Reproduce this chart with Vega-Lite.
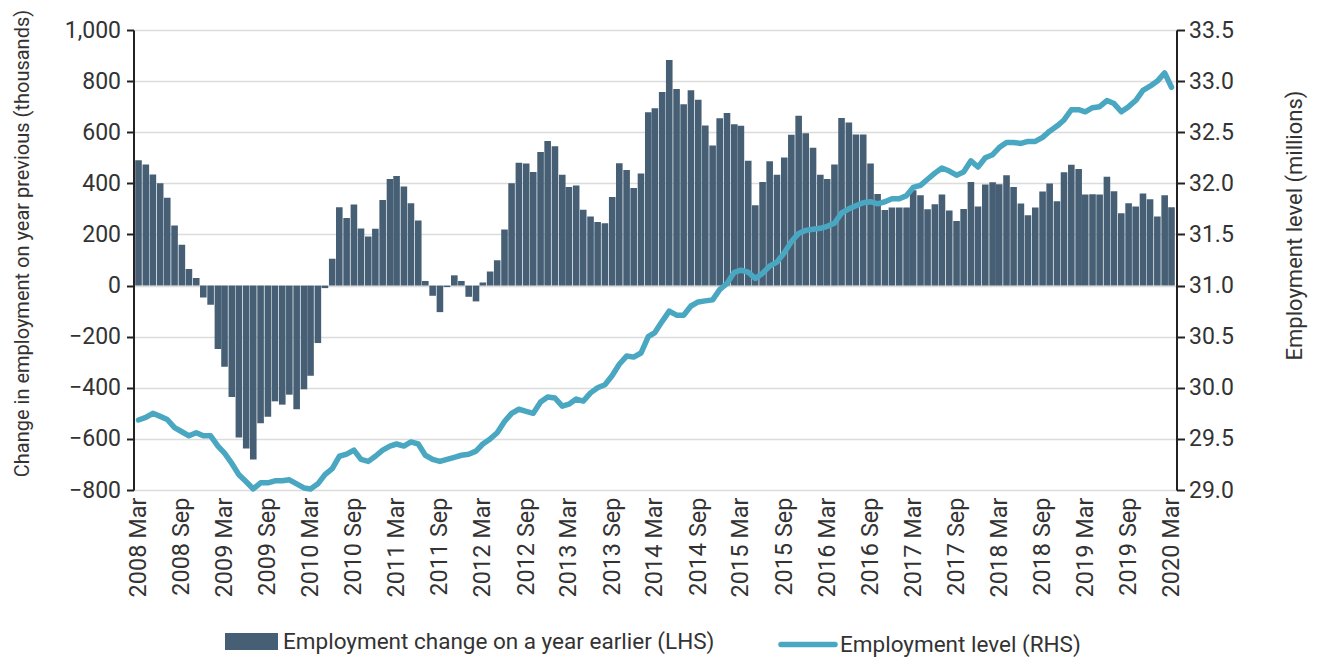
{
  "$schema": "https://vega.github.io/schema/vega-lite/v6.json",
  "width": 1043,
  "height": 460,
  "autosize": {"type": "none"},
  "padding": {"left": 133.5, "top": 30, "right": 143.5, "bottom": 172},
  "background": "white",
  "config": {
    "view": {"stroke": null},
    "font": "Roboto",
    "axis": {"labelFont": "Roboto", "titleFont": "Roboto", "labelFontSize": 23, "titleFontSize": 22, "labelColor": "#333333", "titleColor": "#333333", "titleFontWeight": "normal"},
    "legend": {"labelFont": "Roboto", "labelFontSize": 22.5, "labelColor": "#333333", "labelLimit": 0}
  },
  "data": {"values": [
    {"date":"2008-03-01","change":490,"level":29.685},
    {"date":"2008-04-01","change":474,"level":29.71},
    {"date":"2008-05-01","change":435,"level":29.75},
    {"date":"2008-06-01","change":400,"level":29.72},
    {"date":"2008-07-01","change":344,"level":29.69},
    {"date":"2008-08-01","change":235,"level":29.61},
    {"date":"2008-09-01","change":160,"level":29.57},
    {"date":"2008-10-01","change":65,"level":29.53},
    {"date":"2008-11-01","change":30,"level":29.56},
    {"date":"2008-12-01","change":-47,"level":29.53},
    {"date":"2009-01-01","change":-75,"level":29.53},
    {"date":"2009-02-01","change":-248,"level":29.43},
    {"date":"2009-03-01","change":-318,"level":29.36},
    {"date":"2009-04-01","change":-436,"level":29.26},
    {"date":"2009-05-01","change":-595,"level":29.15},
    {"date":"2009-06-01","change":-638,"level":29.08},
    {"date":"2009-07-01","change":-681,"level":29.01},
    {"date":"2009-08-01","change":-539,"level":29.07},
    {"date":"2009-09-01","change":-513,"level":29.07},
    {"date":"2009-10-01","change":-453,"level":29.09},
    {"date":"2009-11-01","change":-466,"level":29.09},
    {"date":"2009-12-01","change":-427,"level":29.10},
    {"date":"2010-01-01","change":-484,"level":29.06},
    {"date":"2010-02-01","change":-406,"level":29.02},
    {"date":"2010-03-01","change":-353,"level":29.01},
    {"date":"2010-04-01","change":-225,"level":29.06},
    {"date":"2010-05-01","change":-10,"level":29.15},
    {"date":"2010-06-01","change":105,"level":29.21},
    {"date":"2010-07-01","change":306,"level":29.33},
    {"date":"2010-08-01","change":264,"level":29.35},
    {"date":"2010-09-01","change":317,"level":29.39},
    {"date":"2010-10-01","change":223,"level":29.30},
    {"date":"2010-11-01","change":192,"level":29.28},
    {"date":"2010-12-01","change":222,"level":29.33},
    {"date":"2011-01-01","change":335,"level":29.39},
    {"date":"2011-02-01","change":417,"level":29.43},
    {"date":"2011-03-01","change":429,"level":29.45},
    {"date":"2011-04-01","change":388,"level":29.43},
    {"date":"2011-05-01","change":322,"level":29.47},
    {"date":"2011-06-01","change":255,"level":29.45},
    {"date":"2011-07-01","change":18,"level":29.34},
    {"date":"2011-08-01","change":-40,"level":29.30},
    {"date":"2011-09-01","change":-104,"level":29.28},
    {"date":"2011-10-01","change":-6,"level":29.30},
    {"date":"2011-11-01","change":40,"level":29.32},
    {"date":"2011-12-01","change":18,"level":29.34},
    {"date":"2012-01-01","change":-44,"level":29.35},
    {"date":"2012-02-01","change":-62,"level":29.38},
    {"date":"2012-03-01","change":12,"level":29.45},
    {"date":"2012-04-01","change":55,"level":29.50},
    {"date":"2012-05-01","change":99,"level":29.56},
    {"date":"2012-06-01","change":219,"level":29.67},
    {"date":"2012-07-01","change":400,"level":29.75},
    {"date":"2012-08-01","change":481,"level":29.79},
    {"date":"2012-09-01","change":478,"level":29.77},
    {"date":"2012-10-01","change":444,"level":29.75},
    {"date":"2012-11-01","change":523,"level":29.86},
    {"date":"2012-12-01","change":566,"level":29.91},
    {"date":"2013-01-01","change":545,"level":29.90},
    {"date":"2013-02-01","change":434,"level":29.82},
    {"date":"2013-03-01","change":386,"level":29.84},
    {"date":"2013-04-01","change":392,"level":29.89},
    {"date":"2013-05-01","change":297,"level":29.87},
    {"date":"2013-06-01","change":270,"level":29.95},
    {"date":"2013-07-01","change":249,"level":30.00},
    {"date":"2013-08-01","change":244,"level":30.03},
    {"date":"2013-09-01","change":347,"level":30.12},
    {"date":"2013-10-01","change":479,"level":30.23},
    {"date":"2013-11-01","change":452,"level":30.31},
    {"date":"2013-12-01","change":382,"level":30.30},
    {"date":"2014-01-01","change":438,"level":30.34},
    {"date":"2014-02-01","change":678,"level":30.50},
    {"date":"2014-03-01","change":694,"level":30.54},
    {"date":"2014-04-01","change":757,"level":30.65},
    {"date":"2014-05-01","change":883,"level":30.75},
    {"date":"2014-06-01","change":769,"level":30.71},
    {"date":"2014-07-01","change":709,"level":30.71},
    {"date":"2014-08-01","change":764,"level":30.80},
    {"date":"2014-09-01","change":727,"level":30.84},
    {"date":"2014-10-01","change":626,"level":30.85},
    {"date":"2014-11-01","change":548,"level":30.86},
    {"date":"2014-12-01","change":655,"level":30.96},
    {"date":"2015-01-01","change":675,"level":31.02},
    {"date":"2015-02-01","change":631,"level":31.13},
    {"date":"2015-03-01","change":625,"level":31.15},
    {"date":"2015-04-01","change":488,"level":31.13},
    {"date":"2015-05-01","change":314,"level":31.07},
    {"date":"2015-06-01","change":405,"level":31.12},
    {"date":"2015-07-01","change":486,"level":31.19},
    {"date":"2015-08-01","change":434,"level":31.23},
    {"date":"2015-09-01","change":501,"level":31.32},
    {"date":"2015-10-01","change":590,"level":31.43},
    {"date":"2015-11-01","change":664,"level":31.51},
    {"date":"2015-12-01","change":596,"level":31.54},
    {"date":"2016-01-01","change":539,"level":31.55},
    {"date":"2016-02-01","change":434,"level":31.56},
    {"date":"2016-03-01","change":417,"level":31.58},
    {"date":"2016-04-01","change":474,"level":31.61},
    {"date":"2016-05-01","change":656,"level":31.71},
    {"date":"2016-06-01","change":638,"level":31.75},
    {"date":"2016-07-01","change":591,"level":31.78},
    {"date":"2016-08-01","change":591,"level":31.81},
    {"date":"2016-09-01","change":478,"level":31.82},
    {"date":"2016-10-01","change":358,"level":31.80},
    {"date":"2016-11-01","change":296,"level":31.82},
    {"date":"2016-12-01","change":305,"level":31.85},
    {"date":"2017-01-01","change":305,"level":31.85},
    {"date":"2017-02-01","change":305,"level":31.88},
    {"date":"2017-03-01","change":373,"level":31.96},
    {"date":"2017-04-01","change":353,"level":31.98},
    {"date":"2017-05-01","change":299,"level":32.04},
    {"date":"2017-06-01","change":318,"level":32.10},
    {"date":"2017-07-01","change":356,"level":32.15},
    {"date":"2017-08-01","change":294,"level":32.12},
    {"date":"2017-09-01","change":253,"level":32.08},
    {"date":"2017-10-01","change":300,"level":32.11},
    {"date":"2017-11-01","change":405,"level":32.22},
    {"date":"2017-12-01","change":309,"level":32.16},
    {"date":"2018-01-01","change":395,"level":32.25},
    {"date":"2018-02-01","change":404,"level":32.28},
    {"date":"2018-03-01","change":396,"level":32.35},
    {"date":"2018-04-01","change":432,"level":32.40},
    {"date":"2018-05-01","change":386,"level":32.40},
    {"date":"2018-06-01","change":321,"level":32.39},
    {"date":"2018-07-01","change":275,"level":32.41},
    {"date":"2018-08-01","change":305,"level":32.41},
    {"date":"2018-09-01","change":368,"level":32.45},
    {"date":"2018-10-01","change":399,"level":32.51},
    {"date":"2018-11-01","change":330,"level":32.56},
    {"date":"2018-12-01","change":443,"level":32.62},
    {"date":"2019-01-01","change":473,"level":32.72},
    {"date":"2019-02-01","change":456,"level":32.72},
    {"date":"2019-03-01","change":356,"level":32.70},
    {"date":"2019-04-01","change":357,"level":32.74},
    {"date":"2019-05-01","change":356,"level":32.75},
    {"date":"2019-06-01","change":426,"level":32.81},
    {"date":"2019-07-01","change":369,"level":32.78},
    {"date":"2019-08-01","change":283,"level":32.70},
    {"date":"2019-09-01","change":322,"level":32.75},
    {"date":"2019-10-01","change":309,"level":32.81},
    {"date":"2019-11-01","change":360,"level":32.91},
    {"date":"2019-12-01","change":338,"level":32.95},
    {"date":"2020-01-01","change":270,"level":33.00},
    {"date":"2020-02-01","change":353,"level":33.08},
    {"date":"2020-03-01","change":306,"level":32.94}
  ]},
  "encoding": {
    "x": {
      "field": "date",
      "type": "temporal",
      "scale": {"type": "utc", "domain": [{"year": 2008, "month": 3, "date": 1, "utc": true}, {"year": 2020, "month": 3, "date": 1, "utc": true}]},
      "axis": {
        "title": null,
        "labelExpr": "utcFormat(datum.value, '%Y %b')",
        "labelAngle": 270,
        "labelPadding": 7,
        "labelFontSize": 23.5,
        "domain": false,
        "ticks": false,
        "grid": false,
        "labelOverlap": false,
        "labelFlush": false,
        "values": [
          {"year": 2008, "month": 3, "date": 1, "utc": true}, {"year": 2008, "month": 9, "date": 1, "utc": true},
          {"year": 2009, "month": 3, "date": 1, "utc": true}, {"year": 2009, "month": 9, "date": 1, "utc": true},
          {"year": 2010, "month": 3, "date": 1, "utc": true}, {"year": 2010, "month": 9, "date": 1, "utc": true},
          {"year": 2011, "month": 3, "date": 1, "utc": true}, {"year": 2011, "month": 9, "date": 1, "utc": true},
          {"year": 2012, "month": 3, "date": 1, "utc": true}, {"year": 2012, "month": 9, "date": 1, "utc": true},
          {"year": 2013, "month": 3, "date": 1, "utc": true}, {"year": 2013, "month": 9, "date": 1, "utc": true},
          {"year": 2014, "month": 3, "date": 1, "utc": true}, {"year": 2014, "month": 9, "date": 1, "utc": true},
          {"year": 2015, "month": 3, "date": 1, "utc": true}, {"year": 2015, "month": 9, "date": 1, "utc": true},
          {"year": 2016, "month": 3, "date": 1, "utc": true}, {"year": 2016, "month": 9, "date": 1, "utc": true},
          {"year": 2017, "month": 3, "date": 1, "utc": true}, {"year": 2017, "month": 9, "date": 1, "utc": true},
          {"year": 2018, "month": 3, "date": 1, "utc": true}, {"year": 2018, "month": 9, "date": 1, "utc": true},
          {"year": 2019, "month": 3, "date": 1, "utc": true}, {"year": 2019, "month": 9, "date": 1, "utc": true},
          {"year": 2020, "month": 3, "date": 1, "utc": true}
        ]
      }
    }
  },
  "layer": [
    {
      "layer": [
        {
          "mark": {"type": "bar", "width": 6.6, "clip": true},
          "encoding": {
            "y": {
              "field": "change",
              "type": "quantitative",
              "scale": {"domain": [-800, 1000], "nice": false, "zero": false},
              "axis": {
                "orient": "left",
                "title": "Change in employment on year previous (thousands)",
                "titleFontSize": 20,
                "titleAngle": -90,
                "titleX": -111,
                "titleY": 213,
                "titleAlign": "center",
                "titleBaseline": "middle",
                "values": [-800, -600, -400, -200, 0, 200, 400, 600, 800, 1000],
                "format": ",.0f",
                "domainColor": "#222222",
                "domainWidth": 2,
                "tickColor": "#222222",
                "tickWidth": 2,
                "tickSize": 7,
                "labelPadding": 6,
                "grid": true,
                "gridColor": "#dcdcdc",
                "gridWidth": 1.5
              }
            },
            "color": {
              "datum": "Employment change on a year earlier (LHS)",
              "scale": {"range": ["#465f74"]},
              "legend": {
                "orient": "none",
                "legendX": 91.5,
                "legendY": 585,
                "title": null,
                "padding": 0,
                "symbolType": "M-1,-0.32H1V0.32H-1Z",
                "symbolSize": 2809,
                "symbolStrokeWidth": 0,
                "labelOffset": 5
              }
            }
          }
        },
        {
          "mark": {"type": "rule", "color": "#222222", "strokeWidth": 2.5},
          "encoding": {"y": {"datum": 0}}
        }
      ]
    },
    {
      "mark": {"type": "line", "strokeWidth": 5.5, "strokeJoin": "round", "strokeCap": "round"},
      "encoding": {
        "y": {
          "field": "level",
          "type": "quantitative",
          "scale": {"domain": [29, 33.5], "nice": false, "zero": false},
          "axis": {
            "orient": "right",
            "title": "Employment level (millions)",
            "titleFontSize": 22,
            "titleAngle": -90,
            "titleX": 117.5,
            "titleY": 195,
            "titleAlign": "center",
            "titleBaseline": "middle",
            "values": [29, 29.5, 30, 30.5, 31, 31.5, 32, 32.5, 33, 33.5],
            "format": ".1f",
            "domainColor": "#222222",
            "domainWidth": 2,
            "tickColor": "#222222",
            "tickWidth": 2,
            "tickSize": 8,
            "labelPadding": 4,
            "grid": false
          }
        },
        "color": {
          "datum": "Employment level (RHS)",
          "scale": {"range": ["#4aa7c1"]},
          "legend": {
            "orient": "none",
            "legendX": 644.5,
            "legendY": 584.5,
            "title": null,
            "padding": 0,
            "symbolType": "stroke",
            "symbolSize": 2916,
            "symbolStrokeWidth": 5.5,
            "labelOffset": 2,
            "encode": {"symbols": {"update": {"strokeCap": {"value": "round"}}}}
          }
        }
      }
    }
  ],
  "resolve": {"scale": {"y": "independent", "color": "independent"}, "legend": {"color": "independent"}}
}
